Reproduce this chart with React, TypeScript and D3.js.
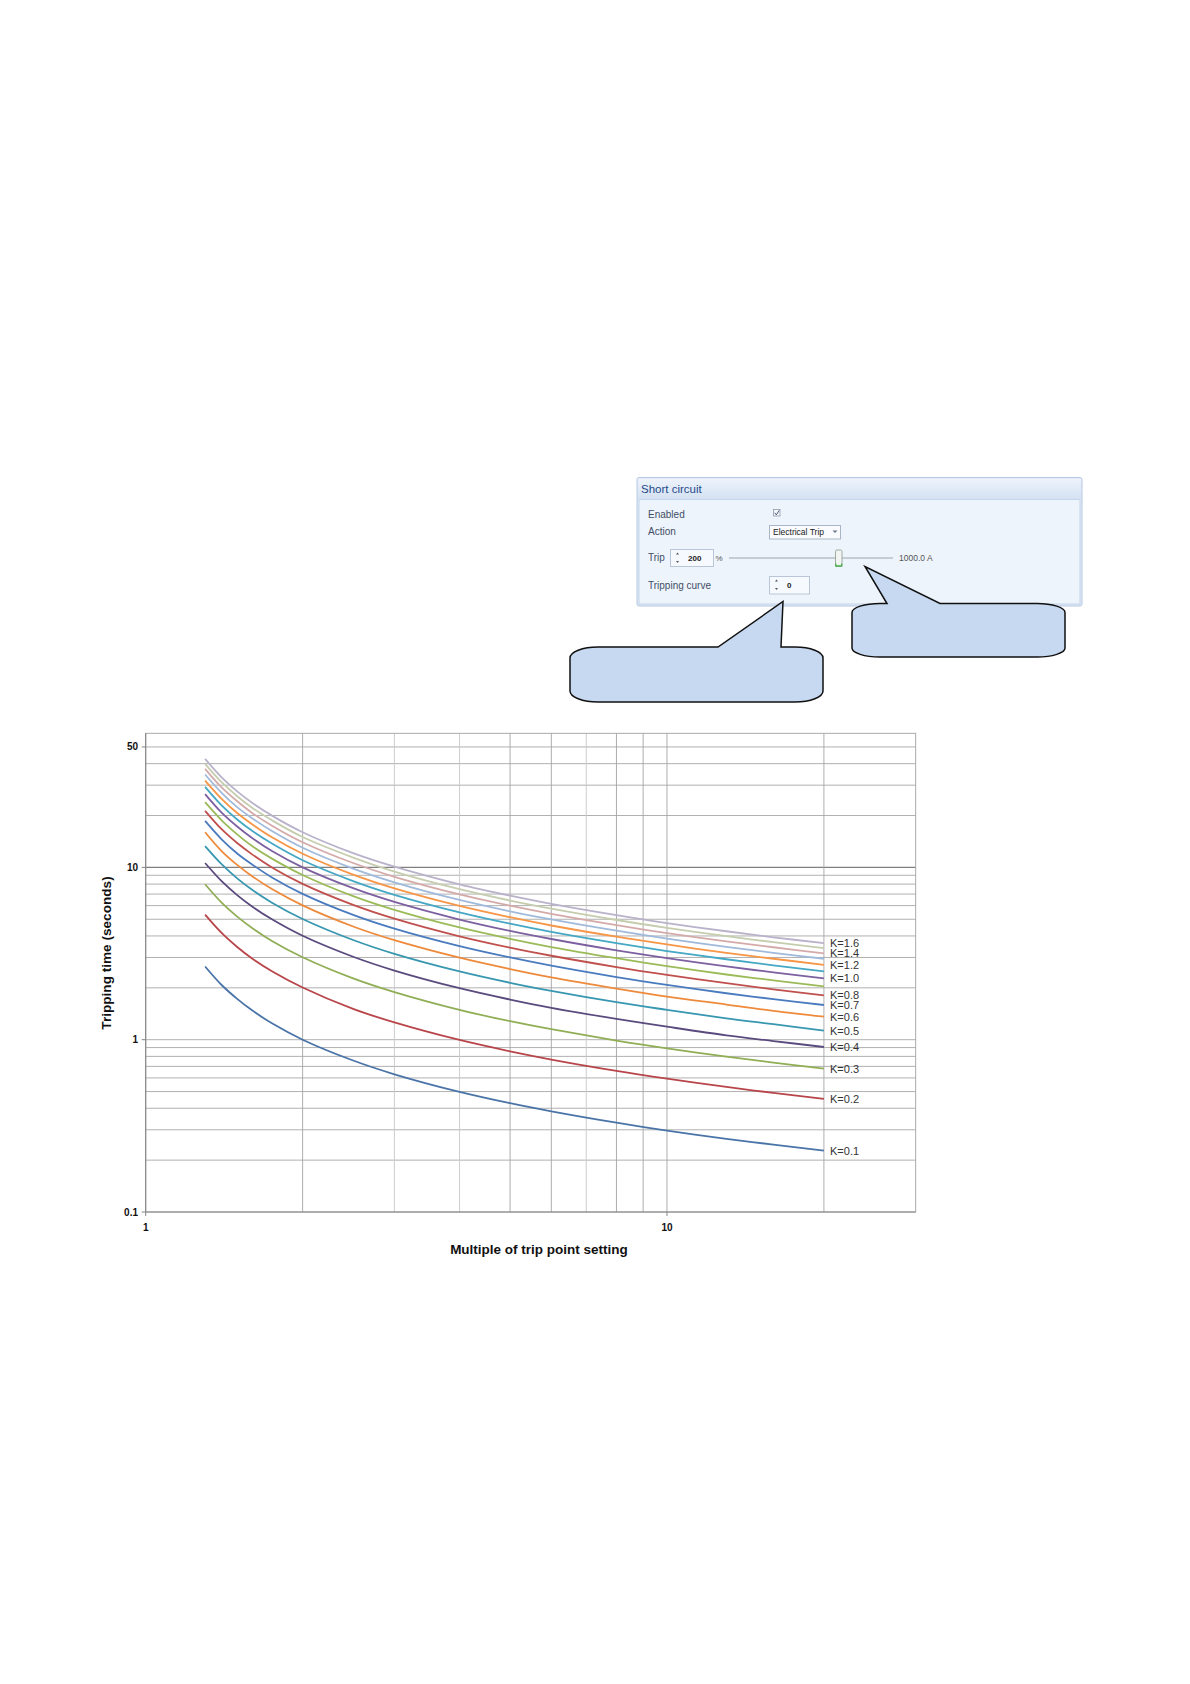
import React from "react";
import * as d3 from "d3";

// ---- data ----
const multiples = [1.3, 1.4, 1.5, 1.6, 1.75, 2, 2.5, 3, 4, 5, 6, 8, 10, 13, 16, 20];
const kValues = [0.1, 0.2, 0.3, 0.4, 0.5, 0.6, 0.7, 0.8, 0.9, 1.0, 1.1, 1.2, 1.3, 1.4, 1.5, 1.6];
const tripTimes = [
  [2.66, 2.07, 1.72, 1.48, 1.24, 1.0, 0.757, 0.63, 0.498, 0.428, 0.384, 0.33, 0.297, 0.266, 0.246, 0.227],
  [5.32, 4.15, 3.44, 2.96, 2.49, 2.01, 1.51, 1.26, 0.996, 0.856, 0.767, 0.659, 0.594, 0.532, 0.491, 0.453],
  [7.98, 6.22, 5.16, 4.45, 3.73, 3.01, 2.27, 1.89, 1.49, 1.28, 1.15, 0.989, 0.891, 0.798, 0.737, 0.68],
  [10.6, 8.29, 6.88, 5.93, 4.98, 4.01, 3.03, 2.52, 1.99, 1.71, 1.53, 1.32, 1.19, 1.06, 0.982, 0.907],
  [13.3, 10.4, 8.6, 7.41, 6.22, 5.02, 3.79, 3.15, 2.49, 2.14, 1.92, 1.65, 1.49, 1.33, 1.23, 1.13],
  [16.0, 12.4, 10.3, 8.89, 7.46, 6.02, 4.54, 3.78, 2.99, 2.57, 2.3, 1.98, 1.78, 1.6, 1.47, 1.36],
  [18.6, 14.5, 12.0, 10.4, 8.71, 7.02, 5.3, 4.41, 3.49, 3.0, 2.69, 2.31, 2.08, 1.86, 1.72, 1.59],
  [21.3, 16.6, 13.8, 11.9, 9.95, 8.02, 6.06, 5.04, 3.98, 3.42, 3.07, 2.64, 2.38, 2.13, 1.96, 1.81],
  [23.9, 18.7, 15.5, 13.3, 11.2, 9.03, 6.81, 5.67, 4.48, 3.85, 3.45, 2.97, 2.67, 2.39, 2.21, 2.04],
  [26.6, 20.7, 17.2, 14.8, 12.4, 10.0, 7.57, 6.3, 4.98, 4.28, 3.84, 3.3, 2.97, 2.66, 2.46, 2.27],
  [29.3, 22.8, 18.9, 16.3, 13.7, 11.0, 8.33, 6.93, 5.48, 4.71, 4.22, 3.63, 3.27, 2.93, 2.7, 2.49],
  [31.9, 24.9, 20.6, 17.8, 14.9, 12.0, 9.08, 7.56, 5.98, 5.14, 4.6, 3.96, 3.57, 3.19, 2.95, 2.72],
  [34.6, 27.0, 22.3, 19.3, 16.2, 13.0, 9.84, 8.19, 6.47, 5.56, 4.99, 4.29, 3.86, 3.46, 3.19, 2.95],
  [37.3, 29.0, 24.1, 20.7, 17.4, 14.0, 10.6, 8.82, 6.97, 5.99, 5.37, 4.62, 4.16, 3.72, 3.44, 3.17],
  [39.9, 31.1, 25.8, 22.2, 18.7, 15.0, 11.4, 9.45, 7.47, 6.42, 5.76, 4.95, 4.46, 3.99, 3.68, 3.4],
  [42.6, 33.2, 27.5, 23.7, 19.9, 16.0, 12.1, 10.1, 7.97, 6.85, 6.14, 5.28, 4.75, 4.26, 3.93, 3.63],
];
const labeledK = [1.6, 1.4, 1.2, 1.0, 0.8, 0.7, 0.6, 0.5, 0.4, 0.3, 0.2, 0.1];
const yTickLabels = [0.1, 1, 10, 50];
const xTickLabels = [1, 10];
const xDomain = [1, 30];
const yDomain = [0.1, 60];

// ---- styles ----
const curveColors = [
  "#4A74A8", "#B8454A", "#90AE55", "#5A4A7E", "#3897B0", "#EE8A3C",
  "#4A7BBE", "#C0504D", "#9BBB59", "#7D60A0", "#45A8C4", "#F79646",
  "#A0BADC", "#D4AAA9", "#C5CDAE", "#B9B2CA",
];
const lightV = [3, 4, 7];

const FONT = "'Liberation Sans', Arial, sans-serif";

function Panel() {
  const txt = "#3f4f66";
  return (
    <g fontFamily={FONT}>
      <defs>
        <linearGradient id="hdr" x1="0" y1="0" x2="0" y2="1">
          <stop offset="0" stopColor="#edf3fb" />
          <stop offset="1" stopColor="#d5e2f3" />
        </linearGradient>
      </defs>
      <rect x={637} y={477.5} width={445} height={128.5} fill="#dfe8f5" stroke="#b6c9e4" rx={2} />
      <rect x={638} y={478.5} width={443} height={20.5} fill="url(#hdr)" />
      <text x={641} y={492.5} fontSize={11.5} fill="#1e4a8a">Short circuit</text>
      <rect x={639} y={499.5} width={441} height={104.5} fill="#eef4fc" stroke="#c4d5ea" />
      <text x={648} y={517.5} fontSize={10} fill={txt}>Enabled</text>
      <text x={648} y={535.3} fontSize={10} fill={txt}>Action</text>
      <text x={648} y={561.3} fontSize={10} fill={txt}>Trip</text>
      <text x={648} y={588.5} fontSize={10} fill={txt}>Tripping curve</text>
      {/* checkbox */}
      <rect x={773.5} y={509.5} width={6.5} height={6.5} fill="#f4f6fa" stroke="#8c9bb0" strokeWidth={0.8} />
      <path d="M774.8,512.8 L776.3,514.8 L779.2,510.4" fill="none" stroke="#3a4a60" strokeWidth={0.9} />
      {/* dropdown */}
      <rect x={769.5} y={525.5} width={71} height={13.5} fill="#f9fbfe" stroke="#a9b6c8" />
      <text x={773} y={535} fontSize={8.5} fill="#1a1a1a">Electrical Trip</text>
      <path d="M832.5,530.5 L837.5,530.5 L835,533 Z" fill="#6a7890" />
      {/* trip spinner */}
      <rect x={670.5} y={549.5} width={43} height={17} fill="#f6f9fd" stroke="#b9c6d8" />
      <path d="M676,554.5 L679,554.5 L677.5,552.5 Z M676,561 L679,561 L677.5,563 Z" fill="#555" />
      <text x={688} y={561} fontSize={8} fontWeight="bold" fill="#222">200</text>
      <text x={715.5} y={561} fontSize={8} fill="#555">%</text>
      <line x1={729} x2={893} y1={558} y2={558} stroke="#b8bec8" strokeWidth={1.5} />
      <rect x={835.5} y={550} width={6.5} height={16.5} rx={1.5} fill="#f3f5f3" stroke="#8a9a8a" strokeWidth={0.8} />
      <path d="M835.8,563.5 L835.8,566 L841.7,566 L841.7,563.5" fill="none" stroke="#4caf50" strokeWidth={1.3} />
      <text x={899} y={561} fontSize={8.5} fill="#555">1000.0  A</text>
      {/* curve spinner */}
      <rect x={769.5} y={576.5} width={40} height={17.5} fill="#f6f9fd" stroke="#b9c6d8" />
      <path d="M775,581.5 L778,581.5 L776.5,579.5 Z M775,588 L778,588 L776.5,590 Z" fill="#555" />
      <text x={787} y={588.3} fontSize={8} fontWeight="bold" fill="#222">0</text>
    </g>
  );
}

function callout(x0: number, x1: number, y0: number, y1: number, rx: number, ry: number,
  b0: number, tx: number, ty: number, b1: number) {
  return `M${x0 + rx},${y0} L${b0},${y0} L${tx},${ty} L${b1},${y0} L${x1 - rx},${y0}` +
    ` A${rx},${ry} 0 0 1 ${x1},${y0 + ry} L${x1},${y1 - ry} A${rx},${ry} 0 0 1 ${x1 - rx},${y1}` +
    ` L${x0 + rx},${y1} A${rx},${ry} 0 0 1 ${x0},${y1 - ry} L${x0},${y0 + ry} A${rx},${ry} 0 0 1 ${x0 + rx},${y0} Z`;
}

function Chart() {
  const L = 145.7, R = 915.7, T = 733.3, B = 1212;
  const x = d3.scaleLog().domain(xDomain).range([L, R]);
  const y = d3.scaleLog().domain(yDomain).range([B, T]);
  const xt = x.ticks().filter((v) => v > xDomain[0] && v < xDomain[1]);
  const yt = y.ticks().filter((v) => v > yDomain[0] && v < yDomain[1]);
  const line = d3
    .line<number>()
    .x((_, i) => x(multiples[i]))
    .y((d) => y(d))
    .curve(d3.curveCatmullRom.alpha(0.5));
  return (
    <g fontFamily={FONT}>
      <rect x={L} y={T} width={R - L} height={B - T} fill="#fff" />
      {yt.map((v) => (
        <line key={"h" + v} x1={L} x2={R} y1={y(v)} y2={y(v)}
          stroke={v === 10 ? "#808080" : "#a8a8a8"} strokeWidth={v === 10 ? 1.2 : 0.9} />
      ))}
      {xt.map((v) => (
        <line key={"v" + v} x1={x(v)} x2={x(v)} y1={T} y2={B}
          stroke={lightV.includes(v) ? "#c8c8c8" : "#a4a4a4"} strokeWidth={0.9} />
      ))}
      <rect x={L} y={T} width={R - L} height={B - T} fill="none" stroke="#a0a0a0" strokeWidth={0.9} />
      <line x1={L} x2={L} y1={T} y2={B} stroke="#868686" strokeWidth={1.1} />
      <line x1={L} x2={R} y1={B} y2={B} stroke="#868686" strokeWidth={1.1} />
      {xTickLabels.map((v) => (
        <line key={"xt" + v} x1={x(v)} x2={x(v)} y1={B} y2={B + 4} stroke="#868686" />
      ))}
      {yTickLabels.map((v) => (
        <line key={"yt" + v} x1={L - 4} x2={L} y1={y(v)} y2={y(v)} stroke="#868686" />
      ))}
      {tripTimes.map((row, i) => (
        <path key={"c" + i} d={line(row) || ""} fill="none" stroke={curveColors[i]}
          strokeWidth={1.8} strokeLinejoin="round" />
      ))}
      {labeledK.map((k) => {
        const i = kValues.indexOf(k);
        const row = tripTimes[i];
        return (
          <text key={"k" + k} x={830} y={y(row[row.length - 1]) + 4} fontSize={11} fill="#333">
            {"K=" + k.toFixed(1)}
          </text>
        );
      })}
      {yTickLabels.map((v) => (
        <text key={"yl" + v} x={138} y={y(v) + 3.5} fontSize={10} fontWeight="bold"
          textAnchor="end" fill="#111">{String(v)}</text>
      ))}
      {xTickLabels.map((v) => (
        <text key={"xl" + v} x={x(v)} y={1231} fontSize={10} fontWeight="bold"
          textAnchor="middle" fill="#111">{String(v)}</text>
      ))}
      <text x={539} y={1254} fontSize={13.5} fontWeight="bold" textAnchor="middle" fill="#111">
        Multiple of trip point setting
      </text>
      <text transform="translate(111,953) rotate(-90)" fontSize={13.6} fontWeight="bold"
        textAnchor="middle" fill="#111">Tripping time (seconds)</text>
    </g>
  );
}

export default function App() {
  return (
    <svg width={1190} height={1684} viewBox="0 0 1190 1684"
      style={{ position: "absolute", left: 0, top: 0, display: "block", background: "#fff" }}>
      <rect x={0} y={0} width={1190} height={1684} fill="#fff" />
      <Chart />
      <Panel />
      <path d={callout(570, 823, 647, 702, 28, 11, 718, 783, 601.5, 781)}
        fill="#c6d9f0" stroke="#111" strokeWidth={1.5} strokeLinejoin="miter" />
      <path d={callout(852, 1065, 603.5, 657, 28, 9, 887, 865, 566.5, 940)}
        fill="#c6d9f0" stroke="#111" strokeWidth={1.5} strokeLinejoin="miter" />
    </svg>
  );
}
